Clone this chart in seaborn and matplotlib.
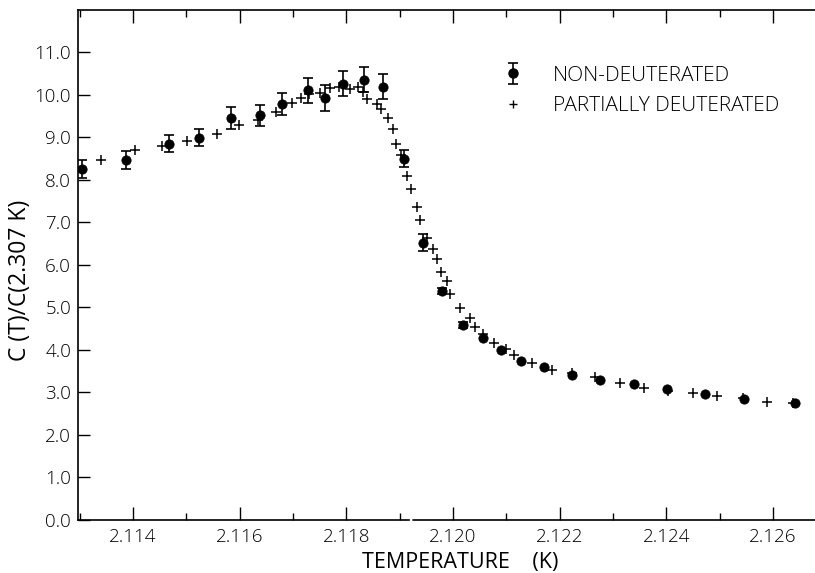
import matplotlib
matplotlib.use("Agg")
import matplotlib.pyplot as plt
import seaborn as sns
import pandas as pd
from matplotlib.ticker import MultipleLocator, FormatStrFormatter
from matplotlib.lines import Line2D

# Non-deuterated (filled circles with error bars)
nd_T = [2.11304, 2.11387, 2.11468, 2.11523, 2.11584, 2.11638, 2.11679, 2.11729,
        2.11760, 2.11794, 2.11833, 2.11869, 2.11908, 2.11944, 2.11979, 2.12019,
        2.12056, 2.12091, 2.12128, 2.12171, 2.12224, 2.12276, 2.12339, 2.12401,
        2.12473, 2.12546, 2.12641]
nd_C = [8.26, 8.47, 8.85, 8.99, 9.45, 9.51, 9.77, 10.10,
        9.92, 10.26, 10.35, 10.19, 8.49, 6.52, 5.38, 4.58,
        4.27, 4.00, 3.74, 3.59, 3.40, 3.29, 3.19, 3.08,
        2.96, 2.84, 2.75]
nd_err = [0.21, 0.21, 0.21, 0.21, 0.25, 0.25, 0.26, 0.30,
          0.30, 0.30, 0.30, 0.30, 0.20, 0.20, 0.07, 0.07,
          0.0, 0.0, 0.0, 0.0, 0.0, 0.0, 0.0, 0.0,
          0.0, 0.0, 0.0]

# Partially deuterated (plus signs)
pd_T = [2.11340, 2.11404, 2.11454, 2.11501, 2.11558, 2.11599, 2.11634, 2.11668,
        2.11699, 2.11715, 2.11731, 2.11751, 2.11770, 2.11787, 2.11807, 2.11822,
        2.11832, 2.11839, 2.11857, 2.11866, 2.11878, 2.11888, 2.11894, 2.11903,
        2.11913, 2.11922, 2.11932, 2.11938, 2.11951, 2.11962, 2.11970, 2.11978,
        2.11988, 2.11995, 2.12013, 2.12033, 2.12042, 2.12057, 2.12078, 2.12099,
        2.12114, 2.12149, 2.12186, 2.12223, 2.12267, 2.12313, 2.12359, 2.12403,
        2.12450, 2.12496, 2.12544, 2.12589, 2.12637]
pd_C = [8.47, 8.69, 8.80, 8.90, 9.08, 9.28, 9.41, 9.60,
        9.81, 9.93, 10.02, 10.04, 10.16, 10.19, 10.13, 10.19,
        10.06, 9.89, 9.79, 9.65, 9.44, 9.18, 8.83, 8.59,
        8.08, 7.77, 7.36, 7.06, 6.63, 6.38, 6.13, 5.83,
        5.62, 5.32, 4.98, 4.75, 4.53, 4.38, 4.15, 4.01,
        3.87, 3.69, 3.53, 3.46, 3.35, 3.23, 3.11, 3.03,
        2.98, 2.91, 2.86, 2.78, 2.76]

x_ticks = [2.114, 2.116, 2.118, 2.120, 2.122, 2.124, 2.126]
y_ticks = [0.0, 1.0, 2.0, 3.0, 4.0, 5.0, 6.0, 7.0, 8.0, 9.0, 10.0, 11.0]

nd_df = pd.DataFrame({"T": nd_T, "C": nd_C, "err": nd_err})
pd_df = pd.DataFrame({"T": pd_T, "C": pd_C})
err_df = nd_df[nd_df["err"] > 0]

sns.set_theme(style="ticks")
plt.rcParams['font.family'] = ['Open Sans', 'DejaVu Sans']
plt.rcParams['font.weight'] = 'light'
for k in ["text.color", "axes.labelcolor", "xtick.color", "ytick.color"]:
    plt.rcParams[k] = "black"
label_font = ['Open Sans', 'DejaVu Sans']

fig = plt.figure(figsize=(8.15, 5.73), dpi=100)
ax = fig.add_axes([78 / 815, 1 - 520 / 573, 1 - 78 / 815, (520 - 9.5) / 573])

sns.scatterplot(data=pd_df, x="T", y="C", marker="+", s=50, color="black",
                linewidth=1.1, ax=ax, legend=False, zorder=3)
sns.scatterplot(data=nd_df, x="T", y="C", marker="o", s=45, color="black",
                edgecolor="black", ax=ax, legend=False, zorder=4)
ax.errorbar(err_df["T"], err_df["C"], yerr=err_df["err"], fmt="none",
            ecolor="black", elinewidth=1.2, capsize=3.5, capthick=1.2, zorder=4)

xmin, xmax = 2.11297, 2.12679
ax.set_xlim(xmin, xmax)
ax.set_ylim(0, 12)
ax.set_xticks(x_ticks)
ax.xaxis.set_minor_locator(MultipleLocator(0.001))
ax.xaxis.set_major_formatter(FormatStrFormatter("%.3f"))
ax.set_yticks(y_ticks)
ax.yaxis.set_major_formatter(FormatStrFormatter("%.1f"))

ax.tick_params(axis="x", which="major", direction="in", length=9.5, width=1.0,
               top=True, bottom=True, labelsize=13.5, pad=6, colors="black")
ax.tick_params(axis="x", which="minor", direction="in", length=5, width=1.0,
               top=True, bottom=True, colors="black")
ax.tick_params(axis="y", which="major", direction="in", length=8.5, width=1.0,
               left=True, right=False, labelsize=13.5, pad=5, colors="black")

for s in ["left", "top", "bottom"]:
    ax.spines[s].set_linewidth(1.2)
    ax.spines[s].set_color("black")
ax.spines["right"].set_visible(False)
# small break in the bottom axis line
brk0, brk1 = 2.11917, 2.11926
ax.spines["bottom"].set_bounds(xmin, brk0)
ax.plot([brk1, xmax], [0, 0], color="black", lw=1.2, clip_on=False, zorder=5)

ax.set_xlabel("TEMPERATURE    (K)", fontsize=15.5, family=label_font)
ax.xaxis.set_label_coords((460 - 78) / 737, -0.062)
ax.set_ylabel("C (T)/C(2.307 K)", fontsize=16.5, family=label_font)
ax.yaxis.set_label_coords(-0.062, (520 - 280) / 510.5)

h1 = ax.errorbar([float("nan")], [float("nan")], yerr=[0.3], fmt="o",
                 color="black", ms=6.5, elinewidth=1.2, capsize=3.5, capthick=1.2)
h2 = Line2D([], [], marker="+", ls="none", color="black", ms=6, mew=1.0)
ax.legend([h1, h2], ["NON-DEUTERATED", "PARTIALLY DEUTERATED"],
          loc="upper left", bbox_to_anchor=(0.548, 0.927), frameon=False,
          prop={"family": label_font, "size": 15, "weight": "light"},
          handlelength=1.2, handletextpad=1.3, labelspacing=0.5)

fig.savefig("out.png", dpi=100)
